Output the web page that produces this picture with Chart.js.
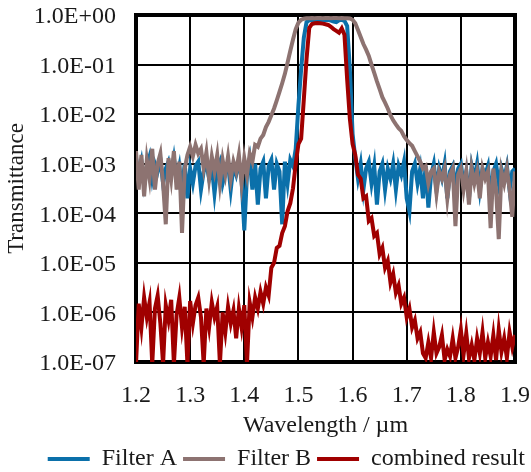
<!DOCTYPE html>
<html>
<head>
<meta charset="utf-8">
<script src="https://cdn.jsdelivr.net/npm/chart.js@4/dist/chart.umd.min.js"></script>
<style>
  body { margin: 0; background: #fff; }
  #wrap { width: 531px; height: 472px; }
</style>
</head>
<body>
<div id="wrap"><canvas id="transmittance-graph" width="531" height="472"></canvas></div>
<script>
// wavelength samples (um)
const wavelengths = [
    1.200, 1.205, 1.210, 1.215, 1.220, 1.225, 1.230, 1.235, 1.240, 1.245, 1.250, 1.255, 1.260, 1.265, 1.270, 1.275, 1.280, 1.285, 1.290, 1.295,
    1.300, 1.305, 1.310, 1.315, 1.320, 1.325, 1.330, 1.335, 1.340, 1.345, 1.350, 1.355, 1.360, 1.365, 1.370, 1.375, 1.380, 1.385, 1.390, 1.395,
    1.400, 1.405, 1.410, 1.415, 1.420, 1.425, 1.430, 1.435, 1.440, 1.445, 1.450, 1.455, 1.460, 1.465, 1.470, 1.475, 1.480, 1.485, 1.490, 1.495,
    1.500, 1.505, 1.510, 1.515, 1.520, 1.525, 1.530, 1.535, 1.540, 1.545, 1.550, 1.555, 1.560, 1.565, 1.570, 1.575, 1.580, 1.585, 1.590, 1.595,
    1.600, 1.605, 1.610, 1.615, 1.620, 1.625, 1.630, 1.635, 1.640, 1.645, 1.650, 1.655, 1.660, 1.665, 1.670, 1.675, 1.680, 1.685, 1.690, 1.695,
    1.700, 1.705, 1.710, 1.715, 1.720, 1.725, 1.730, 1.735, 1.740, 1.745, 1.750, 1.755, 1.760, 1.765, 1.770, 1.775, 1.780, 1.785, 1.790, 1.795,
    1.800, 1.805, 1.810, 1.815, 1.820, 1.825, 1.830, 1.835, 1.840, 1.845, 1.850, 1.855, 1.860, 1.865, 1.870, 1.875, 1.880, 1.885, 1.890, 1.895, 1.900
];

const filterA = [
    1.3e-3, 6e-4, 1.1e-3, 4e-4, 9e-4, 1.4e-3, 5e-4, 1.0e-3, 7e-4, 1.2e-3, 4e-4, 8e-4, 1.1e-3, 6e-4, 1.3e-3, 5e-4, 9e-4, 3e-4, 1.0e-3, 2e-4,
    8e-4, 4e-4, 9e-4, 1.1e-3, 3e-4, 7e-4, 1.0e-3, 5e-4, 9e-4, 2.5e-4, 8e-4, 1.1e-3, 4e-4, 7e-4, 1.0e-3, 3e-4, 9e-4, 6e-4, 1.1e-3, 5e-4,
    4.5e-5, 6e-4, 1.2e-3, 3e-4, 1.0e-3, 1.5e-4, 8e-4, 1.1e-3, 2e-4, 9e-4, 1.2e-3, 3e-4, 1.0e-3, 7e-4, 6e-5, 1.1e-3, 4e-4, 1.2e-3, 9e-4, 2e-3,
    1.5e-2, 8e-2, 0.35, 0.72, 0.78, 0.8, 0.76, 0.8, 0.78, 0.75, 0.79, 0.8, 0.77, 0.74, 0.72, 0.78, 0.8, 0.76, 0.6, 0.08,
    4e-3, 1.3e-3, 5e-4, 1.0e-3, 3e-4, 8e-4, 1.1e-3, 4e-4, 9e-4, 1.5e-4, 7e-4, 1.0e-3, 3e-4, 8e-4, 5e-4, 1.0e-3, 3e-4, 9e-4, 6e-4, 1.1e-3,
    2e-4, 1.1e-4, 7e-4, 1.0e-3, 4e-4, 8e-4, 2e-4, 9e-4, 1.3e-4, 6e-4, 1.0e-3, 3e-4, 8e-4, 5e-4, 1.0e-3, 2e-4, 7e-4, 9e-4, 3e-4, 8e-4,
    1.0e-3, 4e-4, 7e-4, 2e-4, 9e-4, 5e-4, 1.0e-3, 3e-4, 8e-4, 6e-4, 9e-4, 2e-4, 7e-4, 1.0e-3, 4e-4, 8e-4, 5e-4, 9e-4, 3e-4, 7e-4, 8e-4
];

const filterB = [
    1.8e-3, 3e-4, 1.5e-3, 2.2e-4, 1.2e-3, 5e-4, 2e-3, 3e-4, 1.0e-3, 1.6e-3, 4e-4, 6e-5, 1.3e-3, 5e-4, 1.8e-3, 3e-4, 1.1e-3, 4e-5, 8e-4, 1.5e-3,
    2.2e-3, 1.4e-3, 2.4e-3, 1.6e-3, 2.0e-3, 8e-4, 1.7e-3, 5e-4, 1.4e-3, 7e-4, 1.5e-3, 4e-4, 1.2e-3, 6e-4, 1.4e-3, 5e-4, 1.1e-3, 7e-4, 1.5e-3, 4e-4,
    1.3e-3, 6e-4, 1.6e-3, 1.1e-3, 2.4e-3, 2.2e-3, 3.2e-3, 3.8e-3, 5.5e-3, 7e-3, 9.5e-3, 1.3e-2, 1.9e-2, 2.8e-2, 4.2e-2, 6.5e-2, 0.11, 0.19, 0.32, 0.52,
    0.7, 0.8, 0.84, 0.86, 0.86, 0.87, 0.86, 0.87, 0.87, 0.86, 0.87, 0.87, 0.86, 0.87, 0.87, 0.86, 0.87, 0.86, 0.86, 0.85,
    0.8, 0.68, 0.5, 0.36, 0.26, 0.2, 0.15, 0.1, 0.068, 0.046, 0.032, 0.022, 0.017, 0.013, 0.0095, 0.0075, 0.0062, 0.0052, 0.0046, 0.0036,
    0.003, 0.0026, 0.0023, 0.0018, 0.0014, 0.0011, 8e-4, 9e-4, 4e-4, 7e-4, 8e-4, 2.5e-4, 7e-4, 5e-4, 8e-4, 2e-4, 6e-4, 8e-4, 5.5e-5, 6e-4,
    8e-4, 3e-4, 7e-4, 1.5e-4, 8e-4, 4e-4, 7e-4, 2e-4, 8e-4, 5e-4, 7e-4, 5e-5, 8e-4, 3e-4, 3e-5, 7e-4, 4e-4, 8e-4, 3e-4, 8.5e-5, 7e-4
];

const combined = [
    9e-8, 1.5e-6, 5e-7, 2e-6, 8e-7, 1.6e-6, 9e-8, 1.2e-6, 2.2e-6, 6e-7, 9e-8, 1.4e-6, 7e-7, 1.8e-6, 9e-8, 9e-7, 2e-6, 5e-7, 1.3e-6, 9e-8,
    1.7e-6, 6e-7, 1.4e-6, 2.0e-6, 8e-7, 9e-8, 1.2e-6, 5e-7, 1.6e-6, 8e-7, 1.3e-6, 9e-8, 1.0e-6, 4e-7, 1.3e-6, 6e-7, 1.1e-6, 3e-7, 1.2e-6, 5e-7,
    1.4e-6, 9e-8, 1.6e-6, 8e-7, 2e-6, 1.2e-6, 2.6e-6, 1.5e-6, 3.2e-6, 2.2e-6, 8e-6, 1.0e-5, 2.0e-5, 2.2e-5, 4e-5, 5.5e-5, 1.1e-4, 1.6e-4, 3.2e-4, 1.0e-3,
    2.5e-3, 3.2e-3, 2e-2, 0.13, 0.55, 0.66, 0.68, 0.69, 0.68, 0.67, 0.65, 0.63, 0.58, 0.52, 0.48, 0.44, 0.54, 0.4, 0.05, 8e-3,
    2.5e-3, 1.5e-3, 6e-4, 5e-4, 2e-4, 2.2e-4, 7e-5, 8e-5, 3.5e-5, 4e-5, 1.5e-5, 2e-5, 8e-6, 1.1e-5, 4e-6, 6e-6, 2.5e-6, 3.5e-6, 1.5e-6, 2e-6,
    8e-7, 1.2e-6, 5e-7, 7e-7, 3e-7, 4e-7, 1.5e-7, 1.2e-7, 2.5e-7, 1.2e-7, 4e-7, 1.5e-7, 2e-7, 3.5e-7, 1.1e-7, 1.8e-7, 1.3e-7, 3e-7, 1.2e-7, 2e-7,
    4.5e-7, 1.4e-7, 3.8e-7, 1.2e-7, 2.2e-7, 1.1e-7, 3e-7, 1.5e-7, 4e-7, 1.2e-7, 2.5e-7, 1.3e-7, 3.5e-7, 1.1e-7, 4.5e-7, 1.6e-7, 3e-7, 1.2e-7, 4e-7, 2e-7, 3.5e-7
];

const seriesNames = ['Filter A', 'Filter B', 'combined result'];
const xTickValues = [1.2, 1.3, 1.4, 1.5, 1.6, 1.7, 1.8, 1.9];
const xTickLabels = ['1.2', '1.3', '1.4', '1.5', '1.6', '1.7', '1.8', '1.9'];
const yTickValues = [1e-7, 1e-6, 1e-5, 1e-4, 1e-3, 1e-2, 1e-1, 1];
const yTickLabels = ['1.0E-07', '1.0E-06', '1.0E-05', '1.0E-04', '1.0E-03', '1.0E-02', '1.0E-01', '1.0E+00'];

function toPoints(values) {
    return values.map((v, i) => ({ x: wavelengths[i], y: v }));
}

// thick black frame round the plot area
const plotFrame = {
    id: 'plotFrame',
    beforeDatasetsDraw(chart) {
        const { ctx, chartArea } = chart;
        ctx.save();
        ctx.strokeStyle = '#000';
        ctx.lineWidth = 4;
        ctx.strokeRect(chartArea.left, chartArea.top, chartArea.right - chartArea.left, chartArea.bottom - chartArea.top);
        ctx.restore();
    }
};

Chart.defaults.font.family = "'Liberation Serif', 'Times New Roman', serif";
Chart.defaults.color = '#1a1a1a';

const ctx = document.getElementById('transmittance-graph').getContext('2d');

const transmittanceChart = new Chart(ctx, {
    type: 'line',
    data: {
        datasets: [{
            label: seriesNames[0],
            data: toPoints(filterA),
            borderColor: '#0b70aa',
            backgroundColor: '#0b70aa',
            borderWidth: 4,
            order: 3
        }, {
            label: seriesNames[1],
            data: toPoints(filterB),
            borderColor: '#8d7371',
            backgroundColor: '#8d7371',
            borderWidth: 4,
            order: 2
        }, {
            label: seriesNames[2],
            data: toPoints(combined),
            borderColor: '#a00000',
            backgroundColor: '#a00000',
            borderWidth: 4,
            order: 1
        }]
    },
    options: {
        responsive: false,
        animation: false,
        events: [],
        elements: {
            point: { radius: 0 },
            line: { tension: 0, borderJoinStyle: 'miter' }
        },
        layout: {
            padding: { left: 0, right: 0, top: 0, bottom: 0 }
        },
        scales: {
            x: {
                type: 'linear',
                min: 1.2,
                max: 1.9,
                afterBuildTicks: axis => { axis.ticks = xTickValues.map(v => ({ value: v })); },
                afterFit: scale => {
                    scale.height = 79;
                    scale.paddingLeft = 0;
                    scale.paddingRight = 16;
                },
                ticks: {
                    font: { size: 24 },
                    padding: 19,
                    maxRotation: 0,
                    callback: (value) => xTickLabels[xTickValues.indexOf(value)]
                },
                grid: { color: '#000', lineWidth: 2, drawTicks: false },
                border: { display: false },
                title: {
                    display: true,
                    text: 'Wavelength / \u00b5m',
                    font: { size: 24 },
                    padding: { top: 0, bottom: 1 }
                }
            },
            y: {
                type: 'logarithmic',
                min: 1e-7,
                max: 1,
                afterBuildTicks: axis => { axis.ticks = yTickValues.map(v => ({ value: v })); },
                afterFit: scale => {
                    scale.width = 136;
                    scale.paddingTop = 15;
                    scale.paddingBottom = 0;
                },
                ticks: {
                    font: { size: 24 },
                    padding: 20,
                    labelOffset: 2,
                    callback: (value) => yTickLabels[yTickValues.indexOf(value)]
                },
                grid: { color: '#000', lineWidth: 2, drawTicks: false },
                border: { display: false },
                title: {
                    display: true,
                    text: 'Transmittance',
                    font: { size: 23 },
                    padding: { top: 3, bottom: 0 }
                }
            }
        },
        plugins: {
            legend: {
                position: 'bottom',
                align: 'end',
                maxHeight: 31,
                labels: {
                    font: { size: 24 },
                    usePointStyle: true,
                    pointStyle: 'line',
                    pointStyleWidth: 42,
                    boxHeight: 4,
                    padding: 6,
                    sort: (a, b) => a.datasetIndex - b.datasetIndex
                }
            },
            tooltip: { enabled: false }
        }
    },
    plugins: [plotFrame]
});
</script>
</body>
</html>
